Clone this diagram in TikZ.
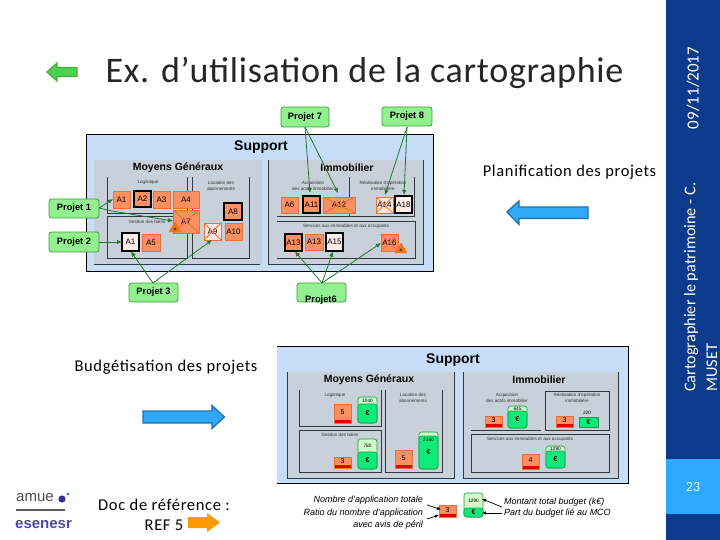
\documentclass[tikz,border=0pt]{standalone}
\usepackage{fontspec}
\setmainfont{Carlito}
\newfontfamily\arl{Liberation Sans}
\newfontfamily\wideb[LetterSpace=4]{Carlito}
\newfontfamily\widet[LetterSpace=2]{Carlito}
\usetikzlibrary{arrows.meta}
\definecolor{side}{HTML}{0D3B8C}
\definecolor{accent}{HTML}{2FA9FF}
\definecolor{supp}{HTML}{C6DCF7}
\definecolor{panel}{HTML}{C8D0D9}
\definecolor{orng}{HTML}{FA8F62}
\definecolor{orngd}{HTML}{E8703C}
\definecolor{prj}{HTML}{93F08F}
\definecolor{prjd}{HTML}{3D9A45}
\definecolor{arrg}{HTML}{1F7A2A}
\definecolor{tank}{HTML}{0DEB78}
\definecolor{tankl}{HTML}{D2FBCB}
\definecolor{tankd}{HTML}{1E9A4A}
\definecolor{frm}{HTML}{33383F}
\definecolor{blu}{HTML}{2FA8F5}
\definecolor{blud}{HTML}{1F72B0}
\tikzset{
  fs/.style={font=\fontsize{#1}{#1}\selectfont},
  box/.style={inner sep=0,outer sep=0,fill=orng,draw=orngd,line width=.5pt,font=\arl\fontsize{8}{8}\selectfont},
  thk/.style={box,draw=black,line width=1.4pt},
  wbox/.style={thk,fill=white!85!orng},
  xbox/.style={box,fill=white!80!orng},
  proj/.style={inner sep=0,outer sep=0,fill=prj,draw=prjd,line width=.7pt,rounded corners=2.5pt,font=\arl\bfseries\fontsize{9.3}{9.3}\selectfont},
  lnk/.style={draw=arrg,line width=.8pt,-{Latex[length=5pt,width=4.5pt]}},
  crs/.style={draw=orngd,line width=.8pt},
  frame/.style={draw=frm,line width=.8pt},
  tiny/.style={inner sep=0,align=center,font=\arl\fontsize{4.6}{6}\selectfont,text=black!80},
  head/.style={inner sep=0,font=\arl\bfseries\fontsize{#1}{#1}\selectfont},
  ital/.style={inner sep=0,font=\arl\itshape\fontsize{9}{9}\selectfont},
  leg/.style={draw=black,line width=.7pt,-{Latex[length=4pt,width=3.5pt]}},
  body/.style={inner sep=0,align=center,text=black,font=\wideb\fontsize{16.5}{20}\selectfont},
  blk/.style={fill=blu,draw=blud,line width=1.3pt,line join=miter}
}
\newcommand{\bx}[7]{\node[#6,minimum width={(#4-#2)*1pt},minimum height={(#5-#3)*1pt}] (#1) at ({(#2+#4)/2},{(#3+#5)/2}) {#7};}
\newcommand{\rdbox}[6]{% name x1 y1 x2 y2 label
  \fill[orng] (#2,#3) rectangle (#4,#5);
  \fill[red!90!black] (#2,{#5-3.5}) rectangle (#4,#5);
  \draw[orngd,line width=.4pt] (#2,#3) rectangle (#4,#5);
  \node[inner sep=0,font=\arl\fontsize{7}{7}\selectfont] (#1) at ({(#2+#4)/2},{(#3+#5)/2-1}) {#6};}
\newcommand{\tankbox}[7]{% name x1 y1 x2 ysplit y2 label
  \draw[tankd,fill=tankl,line width=.6pt,rounded corners=2.5pt] (#2,#3) rectangle (#4,#6);
  \draw[tankd,fill=tank,line width=.6pt,rounded corners=2.5pt] (#2,#5) rectangle (#4,#6);
  \node[inner sep=0,font=\arl\fontsize{4.8}{5}\selectfont] at ({(#2+#4)/2},{(#3+#5)/2}) {#7};
  \node[inner sep=0,font=\arl\bfseries\fontsize{7}{7}\selectfont] (#1) at ({(#2+#4)/2},{(#5+#6)/2}) {€};}
\newcommand{\warn}[2]{%
  \fill[orange!90!red,draw=orngd,line width=.4pt] (#1,{#2-6}) -- ({#1+6},{#2+4}) -- ({#1-6},{#2+4}) -- cycle;
  \fill[black!70] (#1,{#2+1}) circle (1.7pt);}
\begin{document}
\begin{tikzpicture}[x=1pt,y=-1pt]
\useasboundingbox (0,0) rectangle (720,540);
\fill[white] (0,0) rectangle (720,540);
% side bar
\fill[side] (666,0) rectangle (720,540);
\fill[accent] (666,459) rectangle (720,514);
\node[rotate=90,text=white,inner sep=0,fs=17] (date) at (693,88) {09/11/2017};
\node[rotate=90,anchor=west,text=white,inner sep=0,fs=16.3] (t1) at (691,392) {Cartographier le patrimoine - C.};
\node[rotate=90,anchor=west,text=white,inner sep=0,fs=16.3] (t2) at (712,392) {MUSET};
\node[text=white!85!accent,inner sep=0,fs=14] (num) at (693,487) {23};
% title
\node[inner sep=0,font=\widet\fontsize{36}{36}\selectfont,text=black!85] (title) at (364.5,73) {Ex. d’utilisation de la cartographie};
\draw[fill=green!75!black!70,draw=green!60!black!75,line width=1.2pt] (47,72) -- (57,63) -- (57,67.5) -- (77,67.5) -- (77,76.5) -- (57,76.5) -- (57,81) -- cycle;
% section labels
\node[body] (plan) at (569.5,172) {Planification des projets};
\node[body] (budg) at (166,367) {Budgétisation des projets};
\node[body] (docr) at (164,515) {Doc de référence :\\REF 5};
\draw[blk] (507,212) -- (519,201) -- (519,207) -- (588,207) -- (588,218.5) -- (519,218.5) -- (519,224.5) -- cycle;
\draw[blk] (224.5,417) -- (212,405.5) -- (212,411) -- (143,411) -- (143,423) -- (212,423) -- (212,428.5) -- cycle;
\fill[orange!80!yellow] (220,522.5) -- (207,513) -- (207,517) -- (188,517) -- (188,528) -- (207,528) -- (207,532) -- cycle;
% logos
\node[anchor=west,inner sep=0,font=\arl\fontsize{15}{15}\selectfont,text=black!70] (amue) at (16,498) {amue};
\draw[black!65,line width=1.2pt] (16,510) -- (65,510);
\fill[blue!50!black!80] (62,499) circle (3.6pt);
\fill[cyan!60!blue!80] (68,494) circle (1.6pt);
\node[anchor=west,inner sep=0,font=\arl\bfseries\fontsize{15}{15}\selectfont,text=blue!50!black!70] (esen) at (15,525) {esenesr};
%
% ===== Planification =====
\draw[black,fill=supp,line width=.8pt] (86,134) rectangle (433,271);
\fill[panel] (94,160) rectangle (262,265);
\fill[panel] (268,160) rectangle (423,264);
\draw[frame] (94,264) -- (260,264);
\draw[frame] (107,177) -- (107,213) -- (187,213) -- (187,177);
\draw[frame] (107,216) rectangle (187,258);
\draw[frame] (192,177) -- (192,258) -- (249,258) -- (249,177);
\draw[frame] (268,160) -- (268,264) -- (423,264) -- (423,160);
\draw[frame,line width=.5pt] (277,216) -- (349,216);
\draw[frame] (349,177) -- (349,216) -- (414,216) -- (414,177);
\draw[frame] (277,221) -- (415,221) -- (415,258) -- (277,258);
\node[head=14] (sup1) at (261,147) {Support};
\node[head=10.5] (mg1) at (178,168) {Moyens Généraux};
\node[head=10.5] (im1) at (347,168) {Immobilier};
\node[tiny] (l1) at (148,182) {Logistique};
\node[tiny] (l2) at (221,186) {Location des\\abonnements};
\node[tiny] (l3) at (147,221.5) {Gestion des biens};
\node[tiny] (l4) at (313,186) {Acquisition\\des actifs immobilier};
\node[tiny] (l5) at (383,186) {Réalisation d’opération\\immobilière};
\node[tiny] (l6) at (346,226) {Services aux immeubles et aux occupants};
% applications
\bx{a1}{113}{191}{130}{208}{box}{A1}
\bx{a2}{134}{191}{151}{207}{thk}{A2}
\bx{a3}{153}{191}{170}{208}{box}{A3}
\bx{a4}{173}{191}{199}{208}{box}{A4}
\bx{a7}{173}{210}{199}{233}{box}{A7}
\draw[crs] (a7.north west) -- (a7.south east) (a7.north east) -- (a7.south west);
\warn{175}{228}
\bx{a8}{224}{203}{242}{220}{thk}{A8}
\bx{a9}{204}{223}{221}{240}{xbox}{A9}
\draw[crs] (a9.north west) -- (a9.south east) (a9.north east) -- (a9.south west);
\bx{a10}{225}{223}{242}{240}{box}{A10}
\bx{b1}{122}{233}{139}{251}{wbox}{A1}
\bx{b5}{142}{234}{160}{251}{box}{A5}
\bx{a6}{281}{197}{298}{213}{box}{A6}
\bx{a11}{303}{196}{320}{213}{thk}{A11}
\bx{a12}{323}{197}{355}{213}{box}{A12}
\draw[crs] (a12.north west) -- (a12.south east) (a12.north east) -- (a12.south west);
\bx{a14}{376}{197}{393}{213}{xbox}{A14}
\draw[crs] (a14.north west) -- (a14.south east) (a14.north east) -- (a14.south west);
\bx{a18}{395}{196}{412}{213}{wbox}{A18}
\bx{a13}{285}{234}{302}{251}{thk}{A13}
\bx{c13}{305}{234}{323}{250}{box}{A13}
\bx{a15}{326}{233}{343}{251}{wbox}{A15}
\bx{a16}{381}{234}{398}{251}{box}{A16}
\draw[crs] (a16.north west) -- (a16.south east) (a16.north east) -- (a16.south west);
\warn{401}{249}
% projects
\bx{p1}{49}{199}{99}{218}{proj}{Projet 1}
\bx{p2}{49}{232}{99}{252}{proj}{Projet 2}
\bx{p3}{129}{283}{178}{302}{proj}{Projet 3}
\bx{p7}{281}{107}{329}{127}{proj}{Projet 7}
\bx{p8}{382}{107}{432}{126}{proj}{Projet 8}
\bx{p6}{297}{283}{346}{302}{proj}{}
\node[inner sep=0,font=\arl\bfseries\fontsize{9.3}{9.3}\selectfont] (p6t) at (321,300) {Projet6};
% links
\coordinate (p1o) at (99,208);
\coordinate (p3o) at (153,283);
\coordinate (p7o) at (305,127);
\coordinate (p8o) at (407,127);
\coordinate (p6o) at (322,283);
\coordinate (a1i) at (113,199);
\coordinate (a7i) at (173,221);
\coordinate (b1i) at (131,251.5);
\coordinate (a9i) at (212,240);
\coordinate (a11i) at (310,193);
\coordinate (a12i) at (338,193);
\coordinate (a14i) at (385,195);
\coordinate (a18i) at (404,195);
\coordinate (a13i) at (295,251.5);
\coordinate (a15i) at (333,251.5);
\coordinate (a16i) at (381,243);
\draw[lnk] (p1o) -- (a1i);
\draw[lnk] (p1o) -- (112,211) -- (a7i);
\draw[lnk] (p2.east) -- (b1.west);
\draw[lnk] (p3o) -- (b1i);
\draw[lnk] (p3o) -- (a9i);
\draw[lnk] (p7o) -- (a11i);
\draw[lnk] (p7o) -- (a12i);
\draw[lnk] (p8o) -- (a14i);
\draw[lnk] (p8o) -- (a18i);
\draw[lnk] (p6o) -- (a13i);
\draw[lnk] (p6o) -- (a15i);
\draw[lnk] (p6o) -- (a16i);
%
% ===== Budgetisation =====
\fill[supp] (277,346) rectangle (628,483);
\draw[black,line width=.8pt] (277,346) -- (628,346) -- (628,483) -- (277,483);
\fill[panel] (287,372) rectangle (454,478);
\fill[panel] (463,372) rectangle (618,478);
\draw[frame] (287,372) -- (287,478) -- (454,478) -- (454,372);
\draw[frame] (463,372) -- (463,478) -- (618,478) -- (618,372);
\draw[frame] (299,390) -- (299,426) -- (381,426) -- (381,390);
\draw[frame] (299,430) rectangle (381,472);
\draw[frame] (385,390) -- (385,472) -- (442,472) -- (442,390);
\draw[frame] (471,430) -- (541,430);
\draw[frame] (545,391) -- (545,430) -- (609,430) -- (609,391) -- cycle;
\draw[frame] (471,434) rectangle (609,472);
\node[head=14] (sup2) at (453,360) {Support};
\node[head=10.5] (mg2) at (369,380) {Moyens Généraux};
\node[head=10.5] (im2) at (539,380) {Immobilier};
\node[tiny] (m1) at (335,395) {Logistique};
\node[tiny] (m2) at (413,398) {Location des\\abonnements};
\node[tiny] (m3) at (340,435) {Gestion des biens};
\node[tiny] (m4) at (507,398) {Acquisition\\des actifs immobilier};
\node[tiny] (m5) at (577,398) {Réalisation d’opération\\immobilière};
\node[tiny] (m6) at (530,439) {Services aux immeubles et aux occupants};
\rdbox{r1}{334}{404}{351}{423}{5}
\tankbox{g1}{358}{397}{377}{404}{423}{1040}
\rdbox{r2}{334}{457}{351}{468}{3}
\tankbox{g2}{358}{439}{377}{452}{469}{780}
\rdbox{r3}{395}{450}{412}{468}{5}
\tankbox{g3}{419}{432}{438}{436}{469}{}
\node[inner sep=0,font=\arl\fontsize{4.8}{5}\selectfont] (g3t) at (428.5,440) {2150};
\rdbox{r4}{485}{416}{502}{427}{3}
\tankbox{g4}{508}{406}{527}{411}{428}{645}
\rdbox{r5}{556}{416}{573}{427}{3}
\node[inner sep=0,font=\arl\fontsize{4.8}{5}\selectfont] (g5t) at (587,413) {220};
\draw[tankd,fill=tank,line width=.6pt] (579,417) rectangle (598,427);
\node[inner sep=0,font=\arl\bfseries\fontsize{7}{7}\selectfont] (g5) at (588.5,422.5) {€};
\rdbox{r6}{522}{454}{539}{469}{4}
\tankbox{g6}{546}{446}{565}{451}{468}{1290}
%
% ===== legend =====
\rdbox{r7}{439}{505}{456}{517}{3}
\tankbox{g7}{464}{493}{483}{508}{517}{1290}
\node[ital,anchor=east] (n1) at (423,500) {Nombre d’application totale};
\node[ital,anchor=east] (n2) at (423,513) {Ratio du nombre d’application};
\node[ital,anchor=east] (n3) at (423,525) {avec avis de péril};
\node[ital,anchor=west] (n4) at (504,502) {Montant total budget (k€)};
\node[ital,anchor=west] (n5) at (504,513) {Part du budget lié au MCO};
\coordinate (la) at (427,505);
\coordinate (lb) at (427,519);
\coordinate (lc) at (502,507);
\coordinate (ld) at (502,513);
\coordinate (ta) at (441,509.5);
\coordinate (tb) at (439,515);
\coordinate (tc) at (482,499);
\coordinate (td) at (482,513);
\draw[leg] (la) -- (ta);
\draw[leg] (lb) -- (tb);
\draw[leg] (lc) -- (tc);
\draw[leg] (ld) -- (td);
\end{tikzpicture}
\end{document}
